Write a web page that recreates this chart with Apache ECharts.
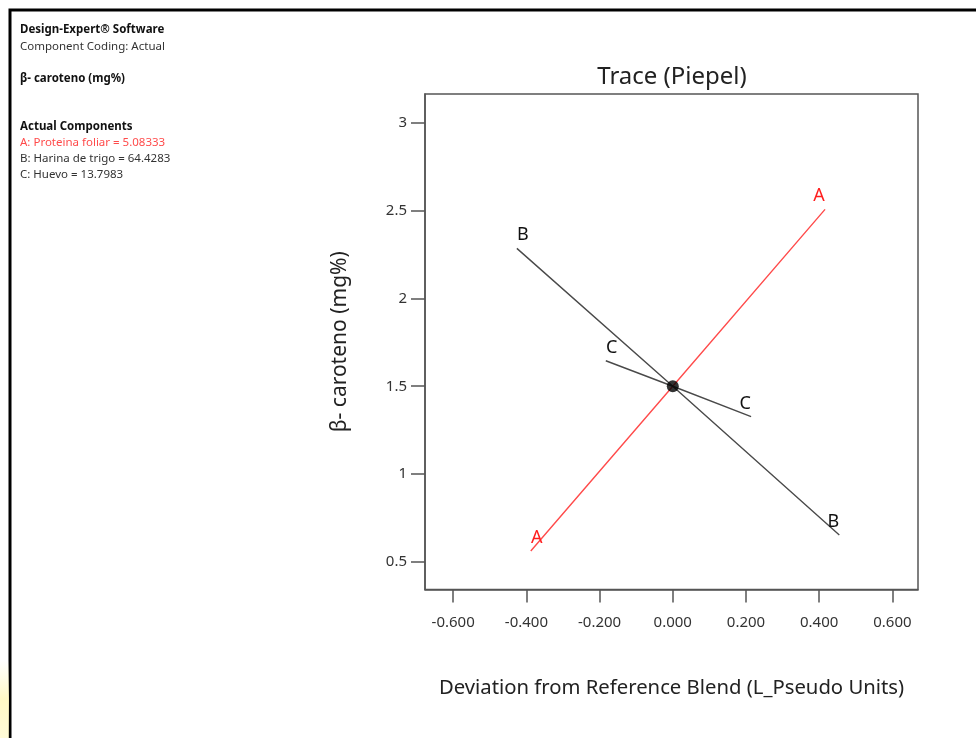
<!DOCTYPE html>
<html>
<head>
<meta charset="utf-8">
<script src="https://cdn.jsdelivr.net/npm/echarts@6/dist/echarts.min.js"></script>
<style>
  html, body { margin: 0; padding: 0; background: #fff; }
  #chart { width: 976px; height: 738px; }
</style>
</head>
<body>
<div id="chart"></div>
<script>
// Piepel trace: response vs. deviation from the reference blend, one trace per component
const componentNames = ['A', 'B', 'C'];
const traceA = [[-0.388, 0.563], [0.0, 1.5], [0.416, 2.506]];
const traceB = [[-0.426, 2.284], [0.0, 1.5], [0.455, 0.654]];
const traceC = [[-0.183, 1.645], [0.0, 1.5], [0.214, 1.327]];
const referencePoint = [[0.0, 1.5]];

const xTicks = [-0.6, -0.4, -0.2, 0.0, 0.2, 0.4, 0.6];
const yTicks = [0.5, 1, 1.5, 2, 2.5, 3];

// Side panel rows; y is the vertical centre of each text line
const sideInfo = [
  { text: 'Design-Expert® Software', style: 'b', y: 29.5 },
  { text: 'Component Coding: Actual', style: 'n', y: 46.5 },
  { text: 'β- caroteno (mg%)', style: 'b', y: 78.5 },
  { text: 'Actual Components', style: 'b', y: 126.5 },
  { text: 'A: Proteina foliar = 5.08333', style: 'r', y: 142.5 },
  { text: 'B: Harina de trigo = 64.4283', style: 'n', y: 158.5 },
  { text: 'C: Huevo = 13.7983', style: 'n', y: 174.5 }
];

const FONT = '"Noto Sans", "Open Sans", sans-serif';
const RED = '#ff4b4b';
const DARK = '#4a4a4a';

function traceSeries(name, data, color, labelColor) {
  const last = data.length - 1;
  const dir = data[0][0] < data[last][0] ? 1 : -1;
  return {
    name: name,
    type: 'line',
    data: data.map((p, i) => {
      const item = { value: p };
      if (i === 0 || i === last) {
        // end label sits just above the trace end, nudged toward the centre
        item.symbol = 'circle';
        item.symbolSize = 0.1;
        item.label = {
          show: true,
          position: 'top',
          distance: 4,
          offset: [i === 0 ? 6 * dir : -6 * dir, 0],
          formatter: name,
          color: labelColor,
          fontFamily: FONT,
          fontSize: 18
        };
      }
      return item;
    }),
    symbol: 'none',
    lineStyle: { color: color, width: 1.4 },
    itemStyle: { color: color },
    silent: true,
    z: 2
  };
}

const chart = echarts.init(document.getElementById('chart'), null, { renderer: 'canvas' });

const infoGraphics = sideInfo.map(row => ({
  type: 'text',
  x: 20,
  y: row.y,
  style: {
    text: row.text,
    fill: row.style === 'r' ? RED : (row.style === 'b' ? '#111' : '#333'),
    font: (row.style === 'b' ? 'bold ' : '') + '11.5px ' + FONT,
    verticalAlign: 'middle'
  },
  silent: true
}));

chart.setOption({
  animation: false,
  backgroundColor: '#fff',
  grid: {
    left: 425, top: 94, right: 58, bottom: 148.5,
    show: true, borderColor: '#555', borderWidth: 1.5, backgroundColor: '#fff'
  },
  xAxis: {
    type: 'value',
    min: -0.677, max: 0.67,
    name: 'Deviation from Reference Blend (L_Pseudo Units)',
    nameLocation: 'middle',
    nameGap: 89,
    nameTextStyle: { fontFamily: FONT, fontSize: 20.3, color: '#222' },
    axisLine: { show: true, onZero: false, lineStyle: { color: '#555', width: 1.5 } },
    axisTick: { show: true, inside: false, length: 13, customValues: xTicks, lineStyle: { color: '#555', width: 1.5 } },
    axisLabel: {
      customValues: xTicks, margin: 26,
      formatter: v => v.toFixed(3),
      fontFamily: FONT, fontSize: 15, color: '#333'
    },
    splitLine: { show: false }
  },
  yAxis: {
    type: 'value',
    min: 0.344, max: 3.162,
    name: 'β- caroteno (mg%)',
    nameLocation: 'middle',
    nameGap: 74,
    nameRotate: 90,
    nameTextStyle: { fontFamily: FONT, fontSize: 21, color: '#222' },
    axisLine: { show: true, onZero: false, lineStyle: { color: '#555', width: 1.5 } },
    axisTick: { show: true, inside: false, length: 14, customValues: yTicks, lineStyle: { color: '#555', width: 1.5 } },
    axisLabel: {
      customValues: yTicks, margin: 18,
      formatter: v => String(v),
      fontFamily: FONT, fontSize: 15, color: '#333'
    },
    splitLine: { show: false }
  },
  series: [
    traceSeries(componentNames[0], traceA, RED, '#ff1f1f'),
    traceSeries(componentNames[1], traceB, DARK, '#111'),
    traceSeries(componentNames[2], traceC, DARK, '#111'),
    {
      name: 'reference',
      type: 'scatter',
      data: referencePoint,
      symbol: 'circle',
      symbolSize: 12,
      itemStyle: { color: '#000' },
      silent: true,
      z: 5
    }
  ],
  graphic: [
    // outer frame
    { type: 'polyline', shape: { points: [[10, 738], [10, 10], [976, 10]] }, style: { stroke: '#000', lineWidth: 3, fill: null }, silent: true },
    // soft highlight at the lower left edge
    {
      type: 'rect', shape: { x: 0, y: 660, width: 9, height: 78 },
      style: {
        fill: new echarts.graphic.LinearGradient(0, 0, 0, 1, [
          { offset: 0, color: 'rgba(255,250,200,0)' },
          { offset: 0.5, color: 'rgba(255,248,190,0.9)' },
          { offset: 1, color: 'rgba(255,248,190,0.6)' }
        ])
      },
      silent: true
    },
    // chart title
    {
      type: 'text', x: 672, y: 77,
      style: {
        text: 'Trace (Piepel)', fill: '#222',
        font: '24px ' + FONT, align: 'center', verticalAlign: 'middle'
      },
      silent: true
    }
  ].concat(infoGraphics)
});
</script>
</body>
</html>
